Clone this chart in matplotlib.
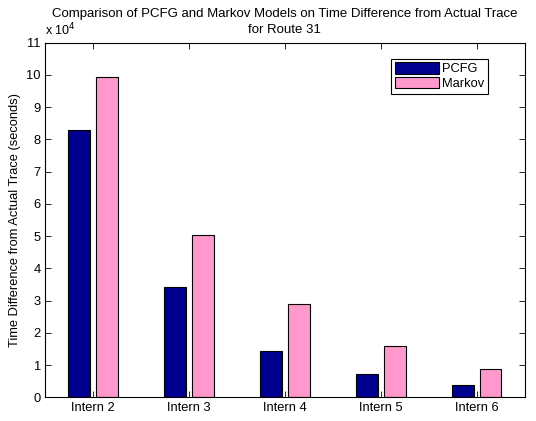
import numpy as np
import matplotlib
matplotlib.use("Agg")
import matplotlib.pyplot as plt

interns = ['Intern 2', 'Intern 3', 'Intern 4', 'Intern 5', 'Intern 6']
pcfg = np.array([8.28, 3.43, 1.45, 0.74, 0.39])    # x 10^4 seconds
markov = np.array([9.92, 5.04, 2.90, 1.60, 0.87])  # x 10^4 seconds

plt.rcParams['font.family'] = ['Liberation Sans', 'DejaVu Sans']
plt.rcParams['font.size'] = 9.3
plt.rcParams['xtick.direction'] = 'in'
plt.rcParams['ytick.direction'] = 'in'

fig = plt.figure(figsize=(5.36, 4.21), dpi=100)
ax = fig.add_axes([0.084, 0.056, 0.895, 0.843])

x = np.arange(1, len(interns) + 1)
w = 0.229
ax.bar(x - 0.143, pcfg, w, color='#00008F', edgecolor='black', linewidth=0.8, label='PCFG')
ax.bar(x + 0.143, markov, w, color='#FF99CC', edgecolor='black', linewidth=0.8, label='Markov')

ax.set_xlim(0.5, 5.5)
ax.set_ylim(0, 11)
ax.set_xticks(x)
ax.set_xticklabels(interns)
ax.set_yticks(np.arange(0, 12, 1))
ax.tick_params(top=True, right=True, length=4, width=0.6, pad=3)
for s in ax.spines.values():
    s.set_linewidth(0.8)

ax.set_ylabel('Time Difference from Actual Trace (seconds)', labelpad=4)
# two-line title, one text per line
ax.text(0.5, 1.071, 'Comparison of PCFG and Markov Models on Time Difference from Actual Trace',
        transform=ax.transAxes, ha='center', va='baseline', fontsize=9.5)
ax.text(0.5, 1.027, 'for Route 31', transform=ax.transAxes, ha='center', va='baseline', fontsize=9.5)
ax.text(0.0, 1.02, r'x 10$^4$', transform=ax.transAxes, ha='left', va='baseline', fontsize=9)

leg = ax.legend(loc='upper right', bbox_to_anchor=(0.923, 0.954), fancybox=False,
                edgecolor='black', framealpha=1, handlelength=3.4, handleheight=0.95,
                handletextpad=0.25, labelspacing=0.12, borderpad=0.28, borderaxespad=0)
leg.get_frame().set_linewidth(0.8)

plt.savefig('out.png', dpi=100)
